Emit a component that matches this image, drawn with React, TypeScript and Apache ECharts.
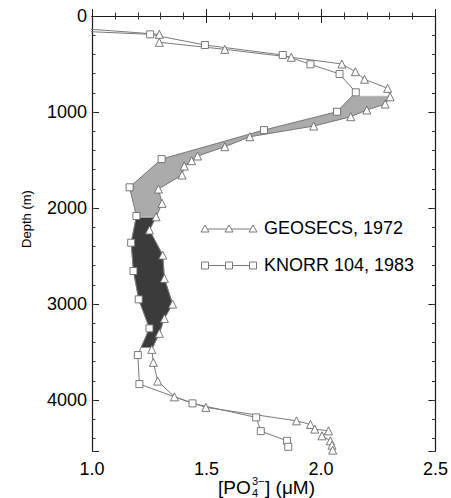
import React, { useEffect, useRef } from 'react';
import * as echarts from 'echarts';

// ---- data ----
const geosecsDepth = [15, 191, 274, 347, 430, 500, 580, 659, 753, 841, 917, 979, 1049, 1146, 1257, 1361, 1458, 1507, 1563, 1656, 1802, 1951, 2091, 2229, 2490, 2732, 3000, 3149, 3305, 3472, 3607, 3802, 3966, 4076, 4216, 4253, 4302, 4320, 4372, 4424, 4469, 4521];
const geosecsPO4 = [0.3, 1.294, 1.294, 1.58, 1.87, 2.091, 2.15, 2.19, 2.291, 2.302, 2.28, 2.2, 2.13, 1.968, 1.689, 1.58, 1.461, 1.435, 1.403, 1.393, 1.29, 1.306, 1.28, 1.251, 1.309, 1.316, 1.352, 1.316, 1.294, 1.261, 1.268, 1.287, 1.36, 1.497, 1.893, 1.954, 1.973, 2.033, 2.004, 2.041, 2.048, 2.051];

const knorrDepth = [90, 191, 302, 406, 503, 604, 795, 997, 1188, 1490, 1784, 2083, 2361, 2656, 2951, 3253, 3531, 3833, 4034, 4180, 4323, 4424, 4486];
const knorrPO4 = [0.3, 1.254, 1.493, 1.833, 1.954, 2.081, 2.152, 2.07, 1.751, 1.304, 1.164, 1.194, 1.171, 1.181, 1.204, 1.251, 1.2, 1.207, 1.439, 1.717, 1.737, 1.852, 1.857];

const shadeFrom = [835, 2102];
const shadeTo = [2090, 3450];
const shadeColors = ['#ababab', '#3b3b3b'];

const xTicks = [1.0, 1.5, 2.0, 2.5];
const yTicks = [0, 1000, 2000, 3000, 4000];
const depthMax = 4530;

const seriesNames = ['GEOSECS, 1972', 'KNORR 104, 1983'];

const FONT = '"Liberation Sans", Arial, Helvetica, sans-serif';
const LINE_COLOR = '#7a7a7a';
const MARK_COLOR = '#6a6a6a';
const TEXT_COLOR = '#000';

function interp(ds: number[], vs: number[], d: number): number {
  for (let i = 0; i < ds.length - 1; i++) {
    if (d >= ds[i] && d <= ds[i + 1]) {
      const t = (d - ds[i]) / (ds[i + 1] - ds[i]);
      return vs[i] + t * (vs[i + 1] - vs[i]);
    }
  }
  return vs[vs.length - 1];
}

function bandPolygon(from: number, to: number): number[][] {
  const levels = Array.from(
    new Set([
      from,
      to,
      ...geosecsDepth.filter((d) => d > from && d < to),
      ...knorrDepth.filter((d) => d > from && d < to),
    ])
  ).sort((a, b) => a - b);
  const left = levels.map((d) => [interp(knorrDepth, knorrPO4, d), d]);
  const right = levels.map((d) => [interp(geosecsDepth, geosecsPO4, d), d]).reverse();
  return [...left, ...right];
}

export default function App() {
  const ref = useRef<HTMLDivElement>(null);

  useEffect(() => {
    if (!ref.current) return;
    const chart = echarts.init(ref.current, undefined, { renderer: 'svg' });

    const bands = shadeFrom.map((f, i) => ({ pts: bandPolygon(f, shadeTo[i]), color: shadeColors[i] }));

    const axisLine = { show: true, lineStyle: { color: '#1a1a1a', width: 1.2 } };
    const baseX = {
      type: 'value' as const,
      min: xTicks[0],
      max: xTicks[xTicks.length - 1],
      interval: 0.5,
      splitLine: { show: false },
      axisLine,
    };
    const baseY = {
      type: 'value' as const,
      min: yTicks[0],
      max: depthMax,
      inverse: true,
      splitLine: { show: false },
    };

    const legendY = [229, 265.5];
    const legendXs = [205, 229, 253];
    const graphics: any[] = [];
    legendY.forEach((y, k) => {
      graphics.push({
        type: 'polyline',
        shape: { points: [[legendXs[0], y], [legendXs[2], y]] },
        style: { stroke: LINE_COLOR, lineWidth: 1, fill: null },
        z: 10,
      });
      legendXs.forEach((x) => {
        if (k === 0) {
          graphics.push({
            type: 'polygon',
            shape: { points: [[x, y - 4], [x + 4, y + 3], [x - 4, y + 3]] },
            style: { fill: '#fff', stroke: MARK_COLOR, lineWidth: 0.9 },
            z: 11,
          });
        } else {
          graphics.push({
            type: 'rect',
            shape: { x: x - 3.5, y: y - 3.5, width: 7, height: 7 },
            style: { fill: '#fff', stroke: MARK_COLOR, lineWidth: 0.9 },
            z: 11,
          });
        }
      });
      graphics.push({
        type: 'text',
        x: 264,
        y: y - 1,
        style: {
          text: seriesNames[k],
          fontSize: 18,
          fontFamily: FONT,
          fill: TEXT_COLOR,
          textAlign: 'left',
          textVerticalAlign: 'middle',
        },
        z: 11,
      });
    });
    // y axis title
    graphics.push({
      type: 'text',
      x: 26,
      y: 219,
      rotation: Math.PI / 2,
      style: {
        text: 'Depth (m)',
        fontSize: 13,
        fontFamily: FONT,
        fill: TEXT_COLOR,
        textAlign: 'center',
        textVerticalAlign: 'middle',
      },
    });
    // x axis title with sub/superscript
    graphics.push(
      {
        type: 'text',
        x: 218,
        y: 487,
        style: { text: '[PO', fontSize: 19, fontFamily: FONT, fill: TEXT_COLOR, textAlign: 'left', textVerticalAlign: 'middle' },
      },
      {
        type: 'text',
        x: 252,
        y: 481,
        style: { text: '3\u2212', fontSize: 11, fontFamily: FONT, fill: TEXT_COLOR, textAlign: 'left', textVerticalAlign: 'middle' },
      },
      {
        type: 'text',
        x: 252,
        y: 493,
        style: { text: '4', fontSize: 11, fontFamily: FONT, fill: TEXT_COLOR, textAlign: 'left', textVerticalAlign: 'middle' },
      },
      {
        type: 'text',
        x: 265,
        y: 487,
        style: { text: '] (\u03bcM)', fontSize: 19, fontFamily: FONT, fill: TEXT_COLOR, textAlign: 'left', textVerticalAlign: 'middle' },
      }
    );

    const option: any = {
      animation: false,
      backgroundColor: '#fff',
      grid: { left: 92, right: 14, top: 16, bottom: 47, containLabel: false },
      xAxis: [
        {
          ...baseX,
          position: 'bottom',
          axisTick: { show: true, inside: true, length: 7, lineStyle: { color: '#1a1a1a', width: 1 } },
          minorTick: { show: true, splitNumber: 5, length: 3.5, lineStyle: { color: '#333', width: 1 } },
          axisLabel: {
            show: true,
            margin: 9,
            fontSize: 18,
            fontFamily: FONT,
            color: TEXT_COLOR,
            formatter: (v: number) => v.toFixed(1),
          },
        },
        {
          ...baseX,
          position: 'top',
          axisTick: { show: true, inside: true, length: 7, lineStyle: { color: '#1a1a1a', width: 1 } },
          minorTick: { show: true, splitNumber: 5, length: 3.5, lineStyle: { color: '#333', width: 1 } },
          axisLabel: { show: false },
        },
      ],
      yAxis: [
        {
          ...baseY,
          position: 'left',
          interval: 1000,
          axisLine,
          axisTick: { show: true, inside: true, length: 7, lineStyle: { color: '#1a1a1a', width: 1 } },
          axisLabel: {
            show: true,
            margin: 5,
            fontSize: 18,
            fontFamily: FONT,
            color: TEXT_COLOR,
            formatter: (v: number) => (yTicks.indexOf(v) >= 0 ? String(v) : ''),
          },
        },
        {
          ...baseY,
          position: 'right',
          interval: 1000,
          axisLine,
          axisTick: { show: true, inside: true, length: 7, lineStyle: { color: '#1a1a1a', width: 1 } },
          axisLabel: { show: false },
        },
        {
          ...baseY,
          position: 'left',
          interval: 200,
          axisLine: { show: false },
          axisTick: { show: true, inside: true, length: 3.5, lineStyle: { color: '#333', width: 1 } },
          axisLabel: { show: false },
        },
        {
          ...baseY,
          position: 'right',
          interval: 200,
          axisLine: { show: false },
          axisTick: { show: true, inside: true, length: 3.5, lineStyle: { color: '#333', width: 1 } },
          axisLabel: { show: false },
        },
      ],
      series: [
        {
          type: 'custom',
          xAxisIndex: 0,
          yAxisIndex: 0,
          silent: true,
          z: 1,
          data: [[1.5, 2000]],
          renderItem: (_params: any, api: any) => ({
            type: 'group',
            children: bands.map((b) => ({
              type: 'polygon',
              shape: { points: b.pts.map((p) => api.coord(p)) },
              style: { fill: b.color, stroke: b.color, lineWidth: 0.5 },
            })),
          }),
        },
        {
          name: seriesNames[0],
          type: 'line',
          xAxisIndex: 0,
          yAxisIndex: 0,
          z: 3,
          data: geosecsDepth.map((d, i) => [geosecsPO4[i], d]),
          symbol: 'triangle',
          symbolSize: 8,
          showAllSymbol: true,
          lineStyle: { color: LINE_COLOR, width: 1 },
          itemStyle: { color: '#fff', borderColor: MARK_COLOR, borderWidth: 0.9 },
          clip: true,
        },
        {
          name: seriesNames[1],
          type: 'line',
          xAxisIndex: 0,
          yAxisIndex: 0,
          z: 3,
          data: knorrDepth.map((d, i) => [knorrPO4[i], d]),
          symbol: 'rect',
          symbolSize: 7,
          showAllSymbol: true,
          lineStyle: { color: LINE_COLOR, width: 1 },
          itemStyle: { color: '#fff', borderColor: MARK_COLOR, borderWidth: 0.9 },
          clip: true,
        },
      ],
      graphic: graphics,
    };

    chart.setOption(option);
    return () => chart.dispose();
  }, []);

  return (
    <div
      ref={ref}
      style={{ position: 'fixed', left: 0, top: 0, width: 451, height: 498, background: '#fff' }}
    />
  );
}
